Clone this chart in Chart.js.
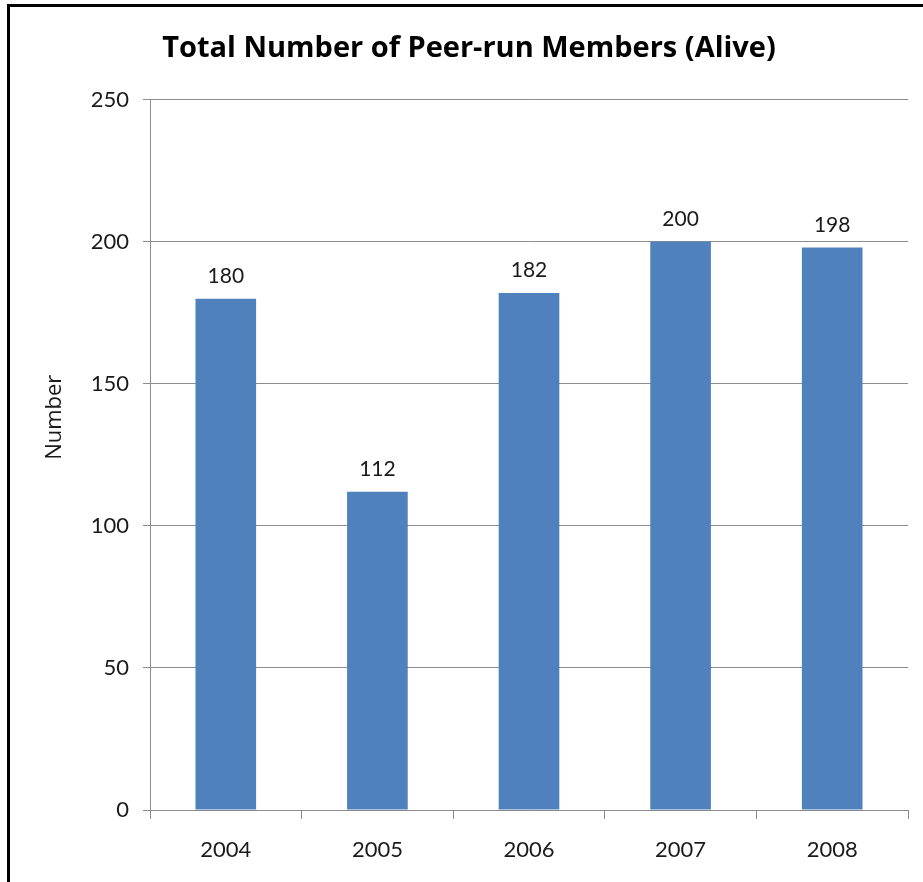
<!DOCTYPE html>
<html>
<head>
<meta charset="utf-8">
<script src="https://cdn.jsdelivr.net/npm/chart.js@4.4.1/dist/chart.umd.min.js"></script>
<style>
  html, body { margin: 0; padding: 0; background: #fff; overflow: hidden; width: 923px; height: 882px; }
  #frame { position: absolute; left: 7px; top: 4px; width: 922px; height: 900px; border-left: 3px solid #000; border-top: 3px solid #000; }
  #c { display: block; }
</style>
</head>
<body>
<div id="frame"><canvas id="c" width="922" height="900"></canvas></div>
<script>
const categories = ["2004", "2005", "2006", "2007", "2008"];
const members = [180, 112, 182, 200, 198];
const yTicks = [0, 50, 100, 150, 200, 250];
const chartTitle = "Total Number of Peer-run Members (Alive)";
const yAxisTitle = "Number";

const FONT = "Lato, 'Open Sans', sans-serif";
const TITLE_FONT = "'Open Sans', Lato, sans-serif";
const TEXT = "#1a1a1a";
const GRID = "#8c8c8c";

const valueLabels = {
  id: "valueLabels",
  afterDatasetsDraw(chart) {
    const ctx = chart.ctx;
    const meta = chart.getDatasetMeta(0);
    ctx.save();
    ctx.font = "21px " + FONT;
    ctx.fillStyle = TEXT;
    ctx.textAlign = "center";
    ctx.textBaseline = "alphabetic";
    meta.data.forEach((bar, i) => {
      ctx.fillText(String(members[i]), bar.x, bar.y - 16);
    });
    ctx.restore();
  }
};

// y-axis title, placed slightly above the middle of the axis as in the source
const yTitle = {
  id: "yTitle",
  afterDraw(chart) {
    const ctx = chart.ctx;
    const ys = chart.scales.y;
    const cy = ys.top + (ys.bottom - ys.top) * 0.447;
    ctx.save();
    ctx.translate(ys.left + 25, cy);
    ctx.rotate(-Math.PI / 2);
    ctx.font = "22px " + TITLE_FONT;
    ctx.fillStyle = TEXT;
    ctx.textAlign = "center";
    ctx.textBaseline = "middle";
    ctx.fillText(yAxisTitle, 0, 0);
    ctx.restore();
  }
};

new Chart(document.getElementById("c"), {
  type: "bar",
  data: {
    labels: categories,
    datasets: [{
      data: members,
      backgroundColor: "#4F81BD",
      borderWidth: 0,
      barPercentage: 0.4,
      categoryPercentage: 1.0
    }]
  },
  options: {
    responsive: false,
    animation: false,
    devicePixelRatio: 1,
    layout: { padding: { left: 20, right: 24, top: 0, bottom: 0 } },
    plugins: {
      legend: { display: false },
      tooltip: { enabled: false },
      title: {
        display: true,
        text: chartTitle,
        color: "#000",
        font: { family: TITLE_FONT, size: 29, weight: "bold", lineHeight: 1.2 },
        padding: { top: 24, bottom: 34 }
      }
    },
    scales: {
      x: {
        offset: true,
        grid: { display: true, offset: true, drawOnChartArea: false, drawTicks: true, tickLength: 9, color: GRID, lineWidth: 1 },
        border: { display: true, color: GRID, width: 1 },
        ticks: { color: TEXT, font: { family: FONT, size: 22 }, padding: 18, maxRotation: 0 },
        afterFit(scale) { scale.height = 97; }
      },
      y: {
        min: 0,
        max: 250,
        afterBuildTicks(scale) { scale.ticks = yTicks.map(v => ({ value: v })); },
        grid: { color: GRID, lineWidth: 1, drawTicks: true, tickLength: 7 },
        border: { display: true, color: GRID, width: 1 },
        ticks: { color: TEXT, font: { family: FONT, size: 22 }, padding: 14 },
        title: { display: false, text: yAxisTitle },
        afterFit(scale) { scale.width = 120; }
      }
    }
  },
  plugins: [valueLabels, yTitle]
});
</script>
</body>
</html>
